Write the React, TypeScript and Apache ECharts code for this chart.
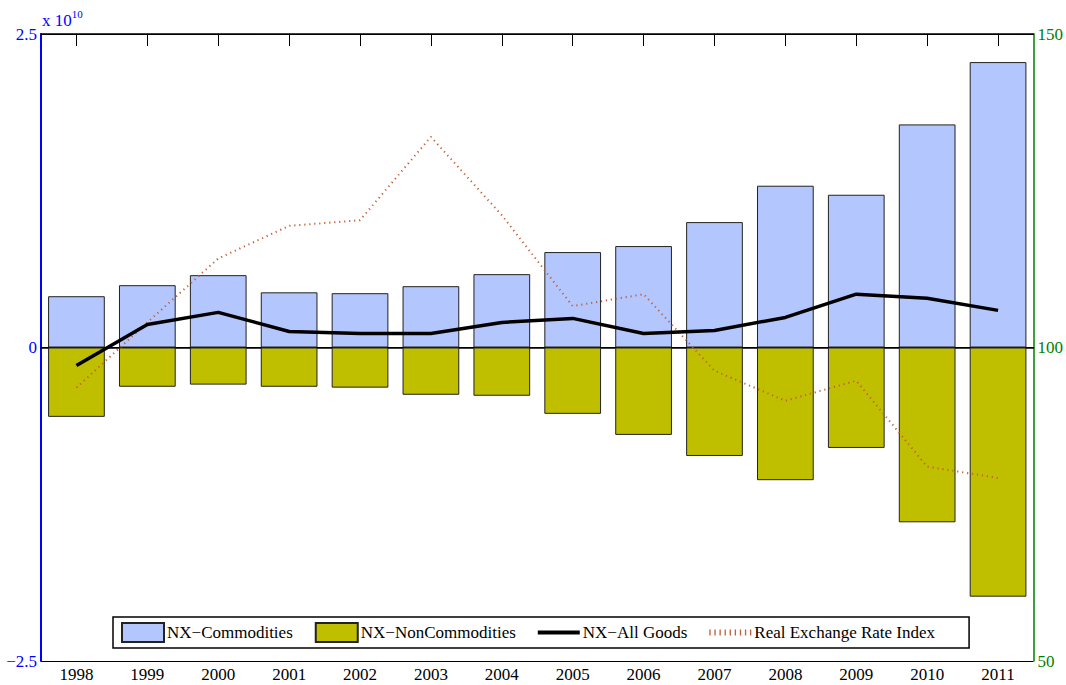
import React, { useEffect, useRef } from "react";
import * as echarts from "echarts";

const years = ["1998", "1999", "2000", "2001", "2002", "2003", "2004", "2005", "2006", "2007", "2008", "2009", "2010", "2011"];
const nxCommodities = [0.409, 0.497, 0.577, 0.44, 0.433, 0.489, 0.585, 0.761, 0.809, 1.0, 1.29, 1.218, 1.779, 2.276];
const nxNonCommodities = [-0.553, -0.313, -0.296, -0.313, -0.32, -0.377, -0.385, -0.529, -0.697, -0.865, -1.058, -0.801, -1.394, -1.987];
const nxAllGoods = [-0.144, 0.184, 0.28, 0.128, 0.112, 0.112, 0.2, 0.232, 0.112, 0.136, 0.24, 0.425, 0.393, 0.296];
const rerIndex = [93.6, 104, 114.2, 119.4, 120.3, 133.6, 121.1, 106.6, 108.5, 96.3, 91.5, 94.7, 81, 79.2];
const leftTicks = [-2.5, 0, 2.5];
const rightTicks = [50, 100, 150];

const SCALE = 1e10;
const FONT = "'Liberation Serif', 'Times New Roman', serif";

const lineIcon = "path://M0,0h42v4h-42z";
const dotIcon =
  "path://" +
  [0, 5, 10, 15, 20, 25, 30, 35, 40]
    .map((x) => `M${x},0h1.3v6h-1.3z`)
    .join(" ");

export default function App() {
  const ref = useRef<HTMLDivElement>(null);
  useEffect(() => {
    if (!ref.current) return;
    const chart = echarts.init(ref.current, undefined, { renderer: "svg" });
    const fmtLeft = (v: number) => {
      const x = v / SCALE;
      const t = leftTicks.find((k) => Math.abs(k - x) < 1e-6);
      if (t === undefined) return "";
      return t < 0 ? "\u2212" + String(-t) : String(t);
    };
    chart.setOption({
      animation: false,
      textStyle: { fontFamily: FONT },
      grid: { left: 41, right: 30, top: 34, bottom: 24, containLabel: false },
      legend: {
        left: 113,
        top: 617,
        orient: "horizontal",
        borderColor: "#000",
        borderWidth: 1.5,
        padding: [5, 34, 5, 8],
        itemGap: 22,
        itemWidth: 42,
        itemHeight: 19,
        textStyle: { fontFamily: FONT, fontSize: 17, color: "#000", padding: [0, 0, 0, -2] },
        data: [
          { name: "NX\u2212Commodities", icon: "rect" },
          { name: "NX\u2212NonCommodities", icon: "rect" },
          { name: "NX\u2212All Goods", icon: lineIcon },
          { name: "Real Exchange Rate Index", icon: dotIcon },
        ],
      },
      graphic: [
        {
          type: "text",
          left: 42,
          top: 8,
          style: {
            text: "{a|x 10}{b|10}",
            rich: {
              a: { fontFamily: FONT, fontSize: 17, fill: "#0000ff", verticalAlign: "bottom" },
              b: { fontFamily: FONT, fontSize: 11, fill: "#0000ff", verticalAlign: "top", padding: [0, 0, 10, 0] },
            },
          },
        },
      ],
      xAxis: [
        {
          type: "category",
          data: years,
          position: "bottom",
          boundaryGap: true,
          axisLine: { show: true, lineStyle: { color: "#000", width: 1.5 } },
          axisTick: { show: true, inside: true, alignWithLabel: true, length: 12, lineStyle: { color: "#000", width: 1 } },
          axisLabel: { color: "#000", fontFamily: FONT, fontSize: 17, margin: 5 },
          splitLine: { show: false },
        },
        {
          type: "category",
          data: years,
          position: "top",
          boundaryGap: true,
          axisLine: { show: true, lineStyle: { color: "#000", width: 1.5 } },
          axisTick: { show: true, inside: true, alignWithLabel: true, length: 12, lineStyle: { color: "#000", width: 1 } },
          axisLabel: { show: false },
          splitLine: { show: false },
        },
      ],
      yAxis: [
        {
          type: "value",
          position: "left",
          min: -2.5 * SCALE,
          max: 2.5 * SCALE,
          interval: 2.5 * SCALE,
          axisLine: { show: true, lineStyle: { color: "#0000ff", width: 2 } },
          axisTick: { show: false },
          axisLabel: { color: "#0000ff", fontFamily: FONT, fontSize: 17, margin: 4, formatter: fmtLeft },
          splitLine: { show: true, lineStyle: { color: "#000", width: 1 } },
        },
        {
          type: "value",
          position: "right",
          min: 50,
          max: 150,
          interval: 50,
          axisLine: { show: true, lineStyle: { color: "#008000", width: 1.5 } },
          axisTick: { show: false },
          axisLabel: {
            color: "#008000",
            fontFamily: FONT,
            fontSize: 17,
            margin: 4,
            formatter: (v: number) => (rightTicks.includes(v) ? String(v) : ""),
          },
          splitLine: { show: false },
        },
      ],
      series: [
        {
          name: "NX\u2212Commodities",
          type: "bar",
          stack: "nx",
          barWidth: "80%",
          data: nxCommodities.map((v) => v * SCALE),
          itemStyle: { color: "#b3c6fe", borderColor: "#222", borderWidth: 1 },
          z: 2,
        },
        {
          name: "NX\u2212NonCommodities",
          type: "bar",
          stack: "nx",
          barWidth: "80%",
          data: nxNonCommodities.map((v) => v * SCALE),
          itemStyle: { color: "#bfbf00", borderColor: "#222", borderWidth: 1 },
          z: 2,
        },
        {
          name: "NX\u2212All Goods",
          type: "line",
          data: nxAllGoods.map((v) => v * SCALE),
          symbol: "none",
          showSymbol: false,
          lineStyle: { color: "#000", width: 3.5 },
          itemStyle: { color: "#000" },
          z: 4,
        },
        {
          name: "Real Exchange Rate Index",
          type: "line",
          yAxisIndex: 1,
          data: rerIndex,
          symbol: "none",
          showSymbol: false,
          lineStyle: { color: "#c0603a", width: 2, type: [1.2, 3.8] },
          itemStyle: { color: "#c0603a" },
          z: 3,
        },
      ],
    });
    return () => chart.dispose();
  }, []);
  return <div ref={ref} style={{ width: 1066, height: 685, position: "absolute", left: 0, top: 0 }} />;
}
